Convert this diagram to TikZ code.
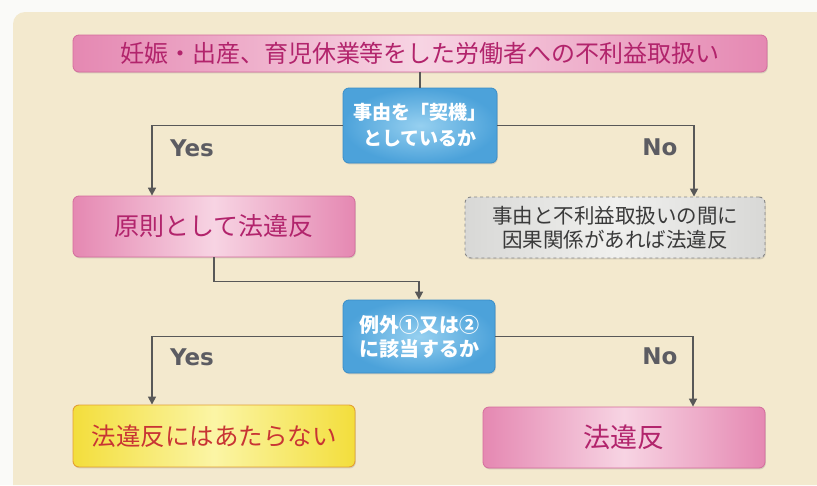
\documentclass[tikz,border=0pt]{standalone}
\usepackage{fontspec}
\newfontfamily\jp{Noto Sans CJK JP}
\newfontfamily\yn{DejaVu Sans}
\usetikzlibrary{arrows.meta,shadows,calc}
\definecolor{pagewhite}{RGB}{250,250,248}
\definecolor{bgbeige}{RGB}{243,233,206}
\definecolor{linegray}{RGB}{88,88,88}
\definecolor{pinkedge}{RGB}{229,136,178}
\definecolor{pinkmid}{RGB}{247,212,227}
\definecolor{pinkborder}{RGB}{212,108,156}
\definecolor{pinktext}{RGB}{178,36,108}
\definecolor{blueedge}{RGB}{76,162,218}
\definecolor{bluemid}{RGB}{150,208,240}
\definecolor{blueborder}{RGB}{58,142,200}
\definecolor{grayedge}{RGB}{216,216,214}
\definecolor{graymid}{RGB}{240,240,238}
\definecolor{grayborder}{RGB}{135,135,135}
\definecolor{graytext}{RGB}{58,58,58}
\definecolor{yellowedge}{RGB}{243,222,60}
\definecolor{yellowmid}{RGB}{251,245,165}
\definecolor{yellowborder}{RGB}{228,160,50}
\definecolor{redtext}{RGB}{200,52,52}
\definecolor{yntext}{RGB}{92,92,98}
\begin{document}
\begin{tikzpicture}[x=1pt,y=-1pt,
  conn/.style={draw=linegray, line width=1.6pt},
  arr/.style={conn, -{Triangle[length=8pt,width=8pt]}},
  boxbase/.style={rounded corners=6pt, inner sep=0pt, align=center,
    drop shadow={shadow xshift=0.8pt, shadow yshift=-1.4pt, opacity=0.25}},
  pinkbox/.style={boxbase, draw=pinkborder, line width=0.8pt,
    left color=pinkedge, right color=pinkedge, middle color=pinkmid, text=pinktext},
  bluebox/.style={boxbase, draw=blueborder, line width=0.8pt,
    inner color=bluemid, outer color=blueedge, text=white,
    minimum width=154pt},
  graybox/.style={boxbase, draw=grayborder, dashed, line width=0.9pt,
    left color=grayedge, right color=grayedge, middle color=graymid, text=graytext},
  yellowbox/.style={boxbase, draw=yellowborder, line width=0.9pt,
    left color=yellowedge, right color=yellowedge, middle color=yellowmid, text=redtext},
  ynlabel/.style={inner sep=0pt, text=yntext, font=\yn\bfseries\fontsize{23}{26}\selectfont}
]
\useasboundingbox (0,0) rectangle (817,485);
\fill[pagewhite] (0,0) rectangle (817,485);
\fill[bgbeige] (817,485) -- (13,485) [rounded corners=12pt] -- (13,12) [sharp corners] -- (817,12) -- cycle;

% nodes
\node[pinkbox, minimum width=694pt, minimum height=37pt,
  font=\jp\fontsize{24}{28}\selectfont] (title) at (420,53.5)
  {妊娠・出産、育児休業等をした労働者への不利益取扱い};
\node[bluebox, minimum height=75pt, font=\jp\bfseries\fontsize{19}{26}\selectfont]
  (q1) at (420,125.5) {事由を「契機」\\としているか};
\node[pinkbox, minimum width=282pt, minimum height=61pt,
  font=\jp\fontsize{25}{30}\selectfont] (p1) at (214,226.5) {原則として法違反};
\node[graybox, minimum width=300pt, minimum height=61pt,
  font=\jp\fontsize{20.5}{24}\selectfont] (g1) at (615,227.5)
  {事由と不利益取扱いの間に\\因果関係があれば法違反};
\node[bluebox, minimum width=152pt, minimum height=73pt,
  font=\jp\bfseries\fontsize{20}{24}\selectfont]
  (q2) at (419,336.5) {例外①又は②\\に該当するか};
\node[yellowbox, minimum width=282pt, minimum height=62pt,
  font=\jp\fontsize{24.5}{30}\selectfont] (y1) at (214,436) {法違反にはあたらない};
\node[pinkbox, minimum width=282pt, minimum height=61pt,
  font=\jp\fontsize{27}{30}\selectfont] (p2) at (624,437.5) {法違反};

% labels
\node[ynlabel] (yes1) at (192,148) {Yes};
\node[ynlabel] (no1) at (660,147) {No};
\node[ynlabel] (yes2) at (192,357) {Yes};
\node[ynlabel] (no2) at (660,356) {No};

% connectors
\draw[conn] (title.south) -- (q1.north);
\draw[arr] (q1.west) -| ([xshift=-62pt]p1.north);
\draw[arr] (q1.east) -| ([xshift=79pt]g1.north);
\draw[arr] (p1.south) -- ++(0,24) -| (q2.north);
\draw[arr] (q2.west) -| ([xshift=-62pt]y1.north);
\draw[arr] (q2.east) -| ([xshift=69pt]p2.north);
\end{tikzpicture}
\end{document}
